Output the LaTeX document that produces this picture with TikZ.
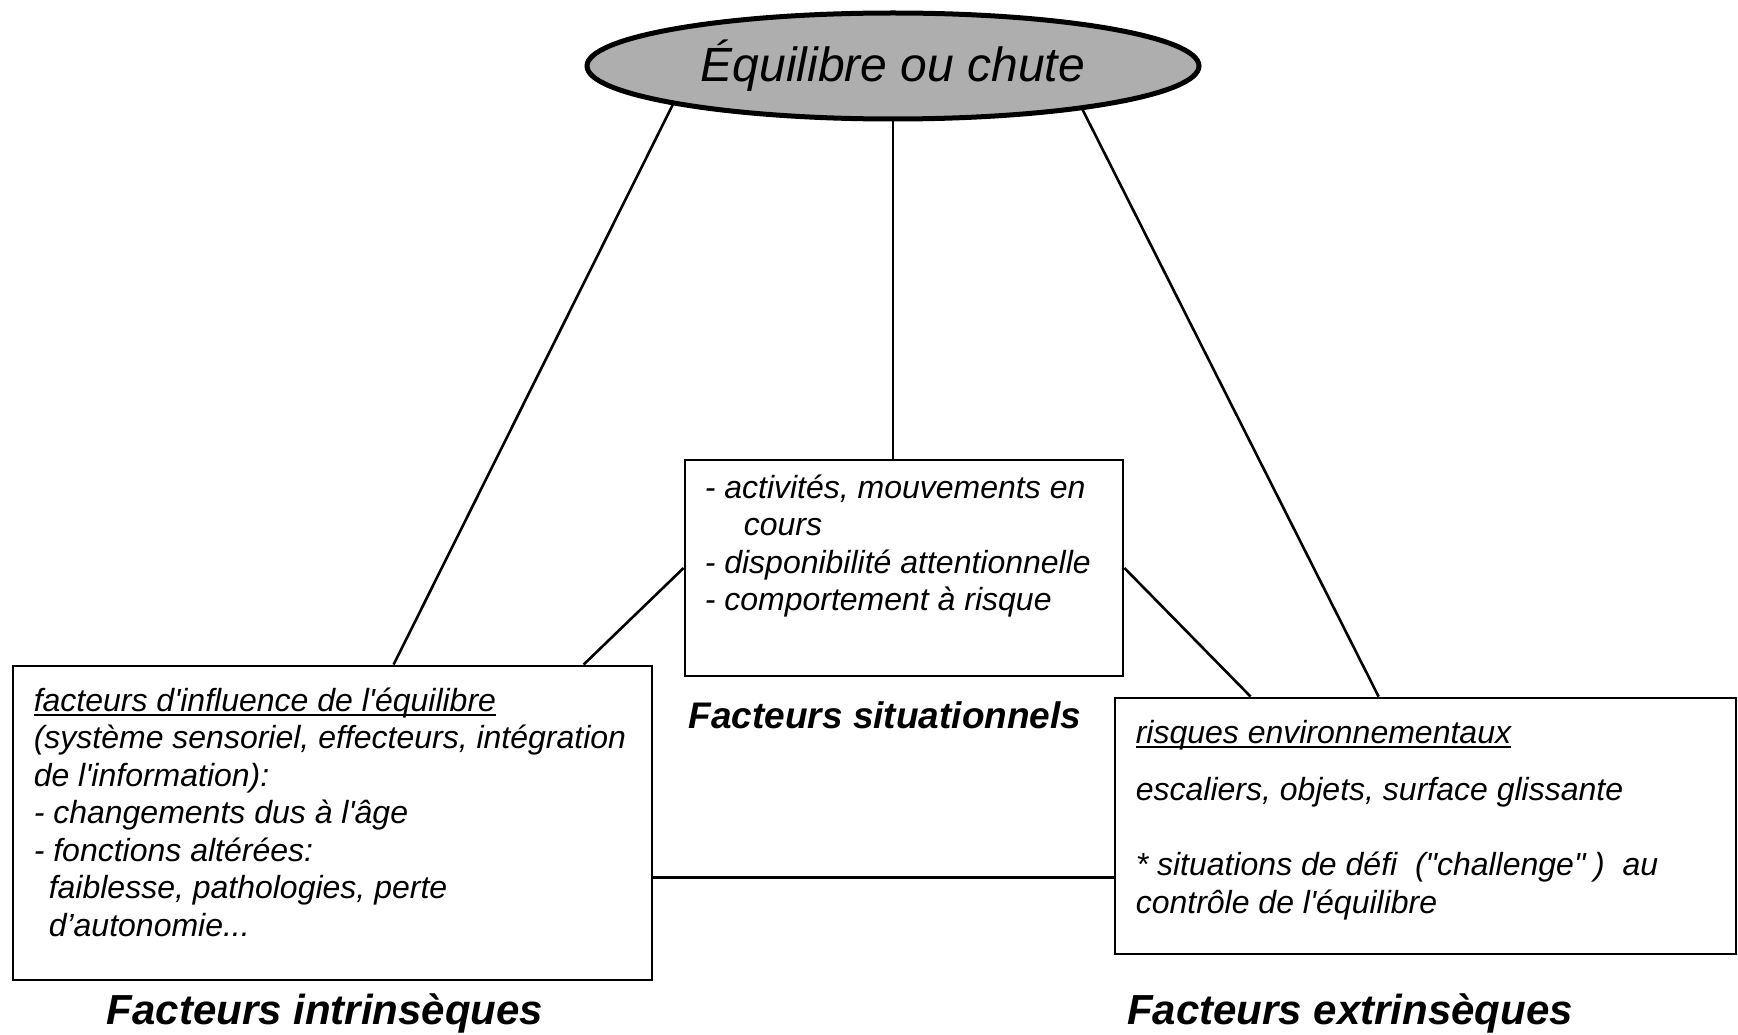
\documentclass[tikz,border=0pt]{standalone}
\usepackage{fontspec}
\setmainfont{Liberation Sans}[Ligatures=TeXOff]
\usepackage{tikz}
\usetikzlibrary{calc}
\usetikzlibrary{shapes.geometric}
\definecolor{fondgris}{RGB}{174,174,174}
\newlength{\largeurmot}
\newcommand{\souligne}[1]{\settowidth{\largeurmot}{#1}\rlap{\rule[-4.5pt]{\largeurmot}{2pt}}#1}

\begin{document}
\begin{tikzpicture}[x=1pt,y=1pt]
	\tikzset{boite/.style={shape=rectangle, draw=black, line width=2.8pt, inner sep=0pt}}
	\tikzset{texte/.style={anchor=north west, inner sep=0pt, align=left, font=\fontsize{32}{37.5}\selectfont\itshape}}
	\tikzset{titre/.style={anchor=base, inner sep=0pt, font=\fontsize{42}{50}\selectfont\bfseries\itshape}}
	\tikzset{lien/.style={line width=2.6pt}}
	\useasboundingbox (0,0) rectangle (1738,-1035);
	\node[ellipse, draw=black, line width=5pt, fill=fondgris, minimum width=612pt, minimum height=106pt, font=\fontsize{48}{56}\selectfont\itshape] (eq) at (893,-66) {Équilibre ou chute};
	\node[boite, minimum width=438pt, minimum height=216pt] (sit) at (904,-568) {};
	\node[boite, minimum width=639pt, minimum height=314pt] (intr) at (332.5,-823) {};
	\node[boite, minimum width=621pt, minimum height=256pt] (extr) at (1425.5,-826) {};
	\node[texte] (sittxt) at ($(sit.north west)+(21,-16)$) {- activités, mouvements en\\\hspace*{39pt}cours\\- disponibilité attentionnelle\\- comportement à risque};
	\node[texte] (intrtxt) at ($(intr.north west)+(22,-23)$) {\souligne{facteurs d'influence de l'équilibre}\\(système sensoriel, effecteurs, intégration\\de l'information):\\- changements dus à l'âge\\- fonctions altérées:\\\hspace*{15pt}faiblesse, pathologies, perte\\\hspace*{15pt}d’autonomie...};
	\node[texte] (extrtxt) at ($(extr.north west)+(22,-24)$) {\souligne{risques environnementaux}\\[19.5pt]escaliers, objets, surface glissante\\[37.5pt]* situations de défi~ ("challenge"~)~ au\\contrôle de l'équilibre};
	\node[titre, font=\fontsize{37}{44}\selectfont\bfseries\itshape] (sitlab) at (885,-728) {Facteurs situationnels};
	\node[titre] (intrlab) at (325,-1024) {Facteurs intrinsèques};
	\node[titre] (extrlab) at (1350,-1024) {Facteurs extrinsèques};
	\draw[lien] (eq.190) -- ($(intr.north west)+(382,0)$);
	\draw[lien] (eq.south) -- (eq.south |- sit.north);
	\draw[lien] (eq.347) -- ($(extr.north west)+(265,0)$);
	\draw[lien] (sit.west) -- ($(intr.north west)+(572,0)$);
	\draw[lien] (sit.east) -- ($(extr.north west)+(137,0)$);
	\draw[lien] ($(intr.north east)+(0,-213)$) -- ($(extr.north west)+(0,-181)$);
\end{tikzpicture}
\end{document}
